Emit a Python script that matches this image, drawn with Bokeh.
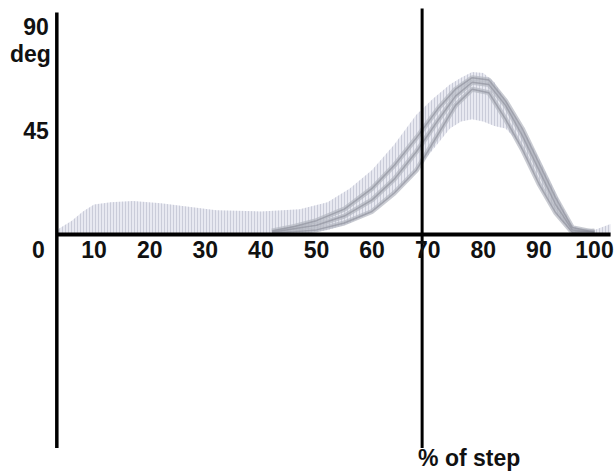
from bokeh.plotting import figure
from bokeh.models import Range1d
from bokeh.core.properties import value
from bokeh.embed import file_html
from bokeh.resources import INLINE

# ---- data (% of step vs. degrees) ----
x_ticks = [0, 10, 20, 30, 40, 50, 60, 70, 80, 90, 100]
x_tick_labels = ["0", "10", "20", "30", "40", "50", "60", "70", "80", "90", "100"]
y_ticks = [45, 90]
y_tick_labels = ["45", "90"]
y_unit = "deg"
x_title = "% of step"
toe_off = 69.0          # vertical line (% of step)
axis_origin = 3.3       # where the vertical degree axis stands

# light normative band
band_x = [3.3, 6, 8, 10, 13, 17, 22, 27, 32, 40, 47, 52, 56, 60, 64, 68, 71, 74, 76, 78,
          80, 82, 84, 86, 88, 90, 92, 94, 96, 98, 100, 102.9]
band_hi = [2, 6, 10, 13, 14, 14.5, 13.5, 12, 10.5, 10, 11, 14, 20, 28, 39, 52, 59, 65, 68, 70.5,
           70, 66, 58, 50, 42, 33, 23, 13, 4, 2, 2, 4.5]
band_lo = [0, 0, 0, 0, 0, 0, 0, 0, 0, 0, 0, 2, 5, 10, 18, 28, 37, 46, 49, 50,
           49, 47, 46, 41, 32, 22, 13.5, 6, 1, 0, 0, 0]

# swing-phase curves
swing_x = [42, 46, 50, 55, 60, 64, 68, 72, 75, 78, 81, 84, 87, 90, 93, 96, 100]
curve_a = [1.5, 3.5, 6, 11, 20, 30, 42, 55, 63, 68, 67, 58, 46, 31, 16, 3, 1]
curve_b = [1, 2.5, 4, 8, 15, 24, 36, 50, 60, 66, 65, 56, 43, 28, 13, 2, 1]
curve_c = [0.5, 1.2, 2, 5, 10, 18, 28, 44, 56, 63, 61.5, 50, 37, 22, 9.5, 1, 1.5]

x_lo, x_hi = -6.83, 103.96
y_lo, y_hi = -103.64, 101.47
axis_bottom = -92.6
axis_top = 96.3
line_top = 98.0
axis_right = 102.9

p = figure(width=616, height=473, output_backend="svg", toolbar_location=None,
           x_range=Range1d(x_lo, x_hi), y_range=Range1d(y_lo, y_hi),
           x_axis_type=None, y_axis_type=None, min_border=0)
p.grid.visible = False
p.outline_line_color = None
p.background_fill_color = "white"

# band
p.varea(x=band_x, y1=band_lo, y2=band_hi, fill_color="#e6e7f0", fill_alpha=0.9,
        hatch_pattern="vertical_line", hatch_color="#a6a9bd", hatch_alpha=0.45,
        hatch_scale=3, hatch_weight=1)

# curves: soft wide stroke + darker core
for c in (curve_a, curve_b, curve_c):
    p.line(swing_x, c, line_color="#b4b6c0", line_width=5, line_alpha=0.7)
for c in (curve_a, curve_b, curve_c):
    p.line(swing_x, c, line_color="#8a8c97", line_width=1.5, line_alpha=0.6)

# axes lines
p.segment(x0=[axis_origin], y0=[axis_bottom], x1=[axis_origin], y1=[axis_top],
          line_color="black", line_width=3.5)
p.segment(x0=[axis_origin], y0=[0], x1=[axis_right], y1=[0], line_color="black", line_width=4)
p.segment(x0=[toe_off], y0=[axis_bottom], x1=[toe_off], y1=[line_top],
          line_color="black", line_width=3)

font = value("Liberation Sans")
fs = "23px"
col = "#111111"
fw = "bold"
p.text(x=x_ticks, y=[0] * len(x_ticks), text=x_tick_labels, text_font=font,
       text_font_size=fs, text_font_style=fw, text_color=col, text_align="center",
       text_baseline="middle", y_offset=15)
p.text(x=[axis_origin] * len(y_ticks), y=y_ticks, text=y_tick_labels, text_font=font,
       text_font_size=fs, text_font_style=fw, text_color=col, text_align="right",
       text_baseline="middle", x_offset=-8)
p.text(x=[axis_origin], y=[y_ticks[-1]], text=[y_unit], text_font=font,
       text_font_size=fs, text_font_style=fw, text_color=col, text_align="right",
       text_baseline="middle", x_offset=-6, y_offset=27)
p.text(x=[toe_off], y=[y_lo], text=[x_title], text_font=font,
       text_font_size=fs, text_font_style=fw, text_color=col, text_align="left",
       text_baseline="bottom", x_offset=-4, y_offset=-3)

open("out.html", "w").write(file_html(p, INLINE))
